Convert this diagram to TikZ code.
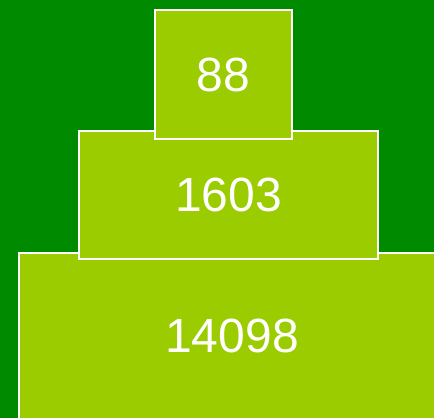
\documentclass[tikz,border=0pt]{standalone}
\usepackage{fontspec}
\setmainfont{Liberation Sans}
\usepackage{xcolor}
\definecolor{bggreen}{HTML}{008A00}
\definecolor{tiergreen}{HTML}{9BCC00}

\begin{document}
\begin{tikzpicture}[x=1pt, y=-1pt,
        tier/.style={draw=white, line width=2pt, fill=tiergreen, text=white,
            font=\fontsize{48}{52}\selectfont, inner sep=0pt}]
        % the background
        \fill[bggreen] (0,0) rectangle (434,418);
        \useasboundingbox (0,0) rectangle (434,418);
        % the tiers, bottom first
        \node[tier, minimum width=426, minimum height=166] (low) at (232,336) {14098};
        \node[tier, minimum width=299, minimum height=128] (mid) at (228.5,195) {1603};
        \node[tier, minimum width=137, minimum height=129] (top) at (223.5,74.5) {88};
    \end{tikzpicture}
\end{document}
